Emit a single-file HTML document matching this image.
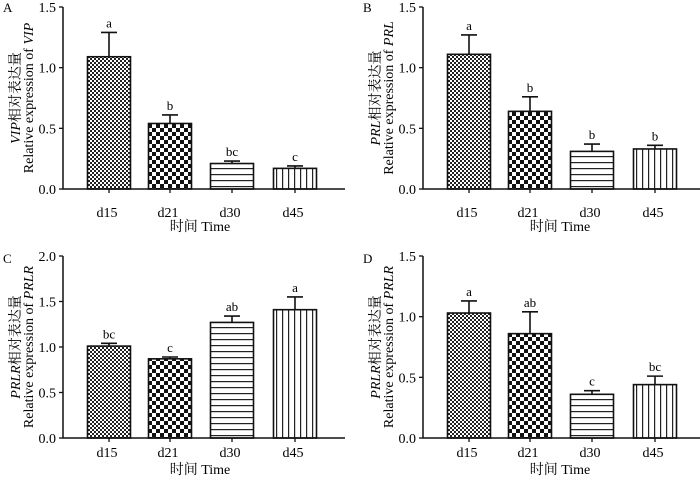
<!DOCTYPE html>
<html><head><meta charset="utf-8"><style>
body{margin:0;background:#fff}
svg{display:block;font-family:"Liberation Serif","Noto Serif CJK SC",serif}
</style></head><body>
<svg id="c" width="700" height="477" viewBox="0 0 700 477">
<defs>
<pattern id="p0" width="4" height="4" patternUnits="userSpaceOnUse"><rect width="4" height="4" fill="#fff"/><rect width="2" height="2" fill="#222"/><rect x="2" y="2" width="2" height="2" fill="#222"/></pattern>
<pattern id="p1" width="8" height="8" patternUnits="userSpaceOnUse"><rect width="8" height="8" fill="#fff"/><rect width="4" height="4" fill="#111"/><rect x="4" y="4" width="4" height="4" fill="#111"/></pattern>
<pattern id="p2" width="6" height="6" patternUnits="userSpaceOnUse"><rect width="6" height="6" fill="#fff"/><rect y="0" width="6" height="1.2" fill="#222"/></pattern>
<pattern id="p3" width="6" height="6" patternUnits="userSpaceOnUse"><rect width="6" height="6" fill="#fff"/><rect x="0" width="1.2" height="6" fill="#222"/></pattern>
</defs>
</svg>
<script>
const categories=["d15","d21","d30","d45"];
const valuesA=[1.09,0.54,0.21,0.17];
const errA=[0.20,0.07,0.02,0.02];
const lettersA=["a","b","bc","c"];
const valuesB=[1.11,0.64,0.31,0.33];
const errB=[0.16,0.12,0.06,0.03];
const lettersB=["a","b","b","b"];
const valuesC=[1.01,0.87,1.27,1.41];
const errC=[0.03,0.02,0.07,0.14];
const lettersC=["bc","c","ab","a"];
const valuesD=[1.03,0.86,0.36,0.44];
const errD=[0.10,0.18,0.03,0.07];
const lettersD=["a","ab","c","bc"];
const ticksAB=["0.0","0.5","1.0","1.5"];
const ticksC=["0.0","0.5","1.0","1.5","2.0"];
const ticksD=["0.0","0.5","1.0","1.5"];
const NS="http://www.w3.org/2000/svg";
const svg=document.getElementById('c');
function mk(tag,attrs,parent,text){const e=document.createElementNS(NS,tag);for(const k in attrs)e.setAttribute(k,attrs[k]);if(text!==undefined)e.textContent=text;(parent||svg).appendChild(e);return e;}
const panels=[
 {id:"a",letter:"A",ox:0,oy:0,vals:valuesA,err:errA,lets:lettersA,ticks:ticksAB,max:1.5,gene:"VIP",tly:217,tty:231},
 {id:"b",letter:"B",ox:360,oy:0,vals:valuesB,err:errB,lets:lettersB,ticks:ticksAB,max:1.5,gene:"PRL",tly:217,tty:231},
 {id:"c",letter:"C",ox:0,oy:249,vals:valuesC,err:errC,lets:lettersC,ticks:ticksC,max:2.0,gene:"PRLR",tly:208,tty:225},
 {id:"d",letter:"D",ox:360,oy:249,vals:valuesD,err:errD,lets:lettersD,ticks:ticksD,max:1.5,gene:"PRLR",tly:208,tty:225}
];
panels.forEach(p=>{
 const g=mk('g',{transform:`translate(${p.ox},${p.oy})`});
 
 
 const ax=63,top=7,zero=189,xend=345;
 const y=v=>zero-(v/p.max)*(zero-top);
 const centers=[109,170,232,295];
 const bw=43;
 const lt=mk('text',{x:3,y:p.oy?14:12,'font-size':13},g,p.letter);
 
 
 p.vals.forEach((v,i)=>{
  const cx=centers[i];
  const eb=mk('path',{d:`M${cx} ${y(v)}V${y(v+p.err[i])}M${cx-8} ${y(v+p.err[i])}H${cx+8}`,stroke:'#111','stroke-width':1.6,fill:'none'},g);
  
  
  const r=mk('rect',{x:cx-bw/2,y:y(v),width:bw,height:zero-y(v),fill:`url(#p${i})`,stroke:'#111','stroke-width':1.6},g);
  
  
  const t=mk('text',{x:cx,y:y(v+p.err[i])-5,'font-size':13,'text-anchor':'middle'},g,p.lets[i]);
  
  
  const tl=mk('text',{x:cx-2,y:p.tly,'font-size':14,'text-anchor':'middle'},g,categories[i]);
  
  
  mk('line',{x1:cx,x2:cx,y1:zero,y2:zero+4,stroke:'#111','stroke-width':1.3},g);
 });
 const axes=mk('path',{d:`M${ax} ${top}V${zero}H${xend}`,stroke:'#111','stroke-width':1.5,fill:'none'},g);
 
 
 p.ticks.forEach((tk,i)=>{
  const v=i*0.5, yy=y(v);
  mk('line',{x1:ax-4,x2:ax,y1:yy,y2:yy,stroke:'#111','stroke-width':1.3},g);
  const t=mk('text',{x:ax-7,y:yy+5,'font-size':14,'text-anchor':'end'},g,tk);
  
  
 });
 const xt=mk('text',{x:200,y:p.tty,'font-size':14,'text-anchor':'middle'},g,'时间  Time');
 
 
 const yt=mk('text',{transform:`translate(20,${(top+zero)/2}) rotate(-90)`,'font-size':14,'text-anchor':'middle'},g);
 
 
 mk('tspan',{'font-style':'italic'},yt,p.gene);
 mk('tspan',{},yt,'相对表达量');
 const yt2=mk('text',{transform:`translate(33,${(top+zero)/2}) rotate(-90)`,'font-size':14,'text-anchor':'middle'},g);
 
 
 mk('tspan',{},yt2,'Relative expression of ');
 mk('tspan',{'font-style':'italic'},yt2,p.gene);
});
</script>
</body></html>
